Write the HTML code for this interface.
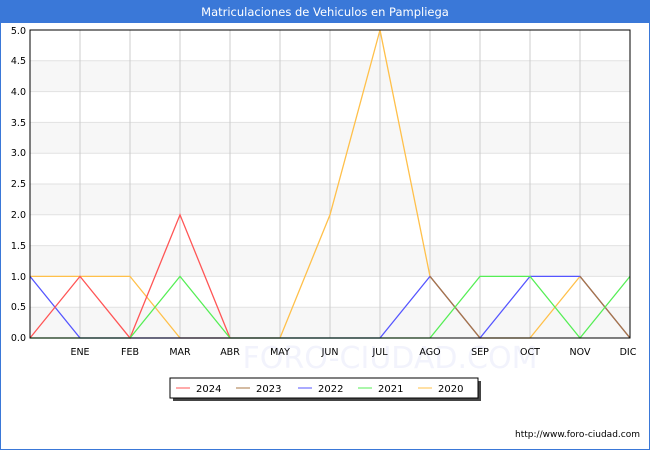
<!DOCTYPE html>
<html><head><style>
body{margin:0;background:#fff;font-family:"DejaVu Sans","Liberation Sans",sans-serif;}
</style></head><body>
<svg width="650" height="450" xmlns="http://www.w3.org/2000/svg" font-family="DejaVu Sans, Liberation Sans, sans-serif">
<rect x="0.5" y="0.5" width="649" height="449" fill="#fff" stroke="#3a78d8"/>
<rect x="0" y="0" width="650" height="23" fill="#3a78d8"/>
<text x="325" y="16" fill="#fff" font-size="11.5" text-anchor="middle">Matriculaciones de Vehiculos en Pampliega</text>
<g fill="#f7f7f7">
<rect x="30" y="307.2" width="600" height="30.8"/>
<rect x="30" y="245.6" width="600" height="30.8"/>
<rect x="30" y="184" width="600" height="30.8"/>
<rect x="30" y="122.4" width="600" height="30.8"/>
<rect x="30" y="60.8" width="600" height="30.8"/>
</g>
<g stroke="#e2e2e2" stroke-width="1">
<line x1="30" x2="630" y1="307.2" y2="307.2"/><line x1="30" x2="630" y1="276.4" y2="276.4"/>
<line x1="30" x2="630" y1="245.6" y2="245.6"/><line x1="30" x2="630" y1="214.8" y2="214.8"/>
<line x1="30" x2="630" y1="184" y2="184"/><line x1="30" x2="630" y1="153.2" y2="153.2"/>
<line x1="30" x2="630" y1="122.4" y2="122.4"/><line x1="30" x2="630" y1="91.6" y2="91.6"/>
<line x1="30" x2="630" y1="60.8" y2="60.8"/>
</g>
<g stroke="#ccc">
<line x1="80" x2="80" y1="30" y2="338"/><line x1="130" x2="130" y1="30" y2="338"/><line x1="180" x2="180" y1="30" y2="338"/><line x1="230" x2="230" y1="30" y2="338"/><line x1="280" x2="280" y1="30" y2="338"/><line x1="330" x2="330" y1="30" y2="338"/><line x1="380" x2="380" y1="30" y2="338"/><line x1="430" x2="430" y1="30" y2="338"/><line x1="480" x2="480" y1="30" y2="338"/><line x1="530" x2="530" y1="30" y2="338"/><line x1="580" x2="580" y1="30" y2="338"/>
</g>
<text x="390" y="368" font-size="30" fill="#f2f3fc" text-anchor="middle">FORO-CIUDAD.COM</text>
<g fill="none" stroke-width="1.3">
<polyline stroke="#ffc04a" points="30,276.4 80,276.4 130,276.4 180,338 230,338 280,338 330,214.8 380,30 430,276.4 480,338 530,338 580,276.4 630,338"/>
<polyline stroke="#5555ff" points="30,276.4 80,338 130,338 180,338 230,338 280,338 330,338 380,338 430,276.4 480,338 530,276.4 580,276.4 630,338"/>
<polyline stroke="#aa7744" points="430,276.4 480,338"/>
<polyline stroke="#aa7744" points="580,276.4 630,338"/>
<polyline stroke="#ff5555" points="30,338 80,276.4 130,338 180,214.8 230,338"/>
<polyline stroke="#55ee55" points="30,338 80,338 130,338 180,276.4 230,338 280,338 330,338 380,338 430,338 480,276.4 530,276.4 580,338 630,276.4"/>
</g>
<rect x="30" y="30" width="600" height="308" fill="none" stroke="#000"/>
<g font-size="9.5" fill="#000" text-anchor="end">
<text x="26" y="341">0.0</text><text x="26" y="310">0.5</text><text x="26" y="280">1.0</text><text x="26" y="249">1.5</text><text x="26" y="218">2.0</text><text x="26" y="187">2.5</text><text x="26" y="156">3.0</text><text x="26" y="126">3.5</text><text x="26" y="95">4.0</text><text x="26" y="64">4.5</text><text x="26" y="34">5.0</text>
</g>
<g font-size="9.5" fill="#000" text-anchor="middle">
<text x="80" y="355">ENE</text><text x="130" y="355">FEB</text><text x="180" y="355">MAR</text><text x="230" y="355">ABR</text><text x="280" y="355">MAY</text><text x="330" y="355">JUN</text><text x="380" y="355">JUL</text><text x="430" y="355">AGO</text><text x="480" y="355">SEP</text><text x="530" y="355">OCT</text><text x="580" y="355">NOV</text><text x="628" y="355">DIC</text>
</g>
<rect x="173" y="381" width="308" height="20" fill="#444"/>
<rect x="170" y="378" width="308" height="20" fill="#fff" stroke="#000"/>
<g font-size="10" fill="#000">
<line x1="176" x2="190" y1="388" y2="388" stroke="#ff5555"/><text x="196" y="392">2024</text>
<line x1="236" x2="250" y1="388" y2="388" stroke="#aa7744"/><text x="256" y="392">2023</text>
<line x1="298" x2="312" y1="388" y2="388" stroke="#5555ff"/><text x="318" y="392">2022</text>
<line x1="358" x2="372" y1="388" y2="388" stroke="#55ee55"/><text x="378" y="392">2021</text>
<line x1="418" x2="432" y1="388" y2="388" stroke="#ffc04a"/><text x="438" y="392">2020</text>
</g>
<text x="640" y="437" font-size="9" text-anchor="end" fill="#000">http://www.foro-ciudad.com</text>
</svg>
</body></html>
